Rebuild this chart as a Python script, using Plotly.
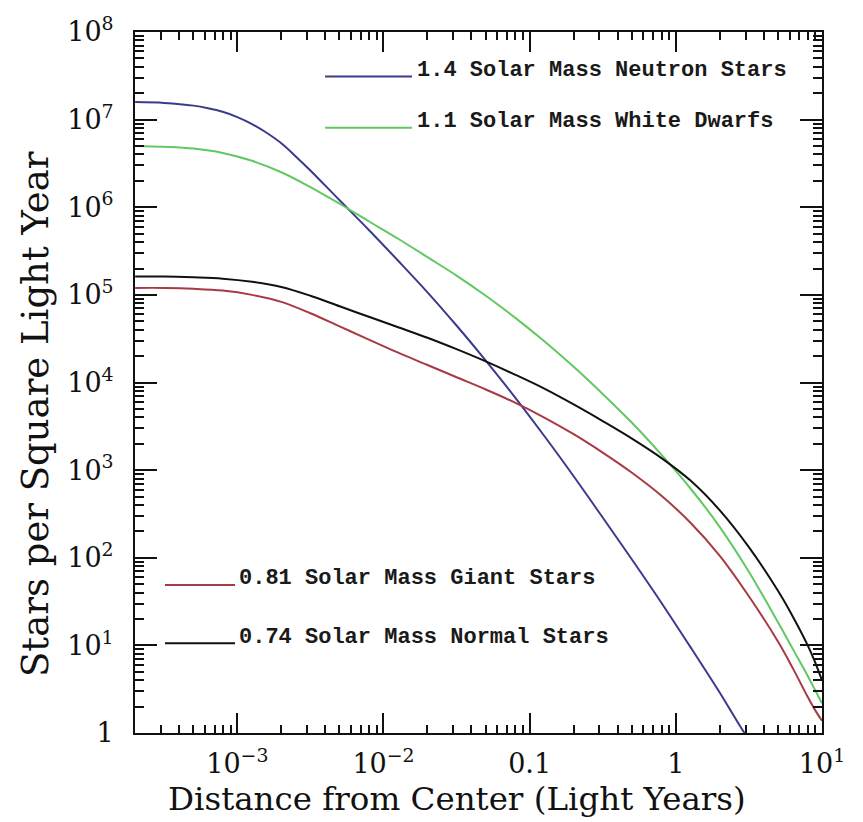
import plotly.graph_objects as go

# ---- data (distance in light years, stars per square light year)
distance = [2.0e-4, 3.16e-4, 5.01e-4, 7.94e-4, 1.26e-3, 2.0e-3, 3.16e-3, 5.01e-3, 7.94e-3,
            1.26e-2, 2.0e-2, 3.16e-2, 5.01e-2, 7.94e-2, 0.126, 0.2, 0.316, 0.501, 0.794,
            1.26, 2.0, 3.16, 5.01, 6.31, 7.94, 8.91, 10.0]

neutron_x = [2.0e-4, 3.16e-4, 5.01e-4, 6.31e-4, 7.94e-4, 1.0e-3, 1.26e-3, 1.585e-3, 2.0e-3,
             2.51e-3, 3.16e-3, 5.01e-3, 7.94e-3, 1.26e-2, 2.0e-2, 3.16e-2, 5.01e-2, 7.94e-2,
             0.126, 0.2, 0.316, 0.501, 0.794, 1.26, 2.0, 2.95, 3.16]
neutron_y = [1.585e7, 1.549e7, 1.445e7, 1.35e7, 1.23e7, 1.07e7, 8.91e6, 7.08e6, 5.37e6,
             3.80e6, 2.63e6, 1.20e6, 5.50e5, 2.45e5, 1.07e5, 4.47e4, 1.78e4, 6.76e3,
             2.45e3, 851, 288, 95.5, 30.9, 9.55, 2.88, 1.0, 0.87]

dwarf_y = [5.01e6, 4.90e6, 4.68e6, 4.17e6, 3.39e6, 2.51e6, 1.70e6, 1.096e6, 6.92e5,
           4.37e5, 2.69e5, 1.66e5, 9.77e4, 5.50e4, 2.95e4, 1.51e4, 7.41e3, 3.47e3, 1.51e3,
           617, 224, 69.2, 18.2, 9.12, 4.57, 3.16, 2.19]

giant_y = [1.20e5, 1.20e5, 1.175e5, 1.12e5, 1.0e5, 8.32e4, 6.17e4, 4.37e4, 3.09e4,
           2.19e4, 1.585e4, 1.148e4, 8.32e3, 5.89e3, 3.98e3, 2.57e3, 1.585e3, 933, 513,
           251, 105, 36.3, 11.0, 5.50, 2.63, 1.86, 1.38]

normal_y = [1.62e5, 1.62e5, 1.585e5, 1.53e5, 1.41e5, 1.23e5, 9.77e4, 7.41e4, 5.62e4,
            4.27e4, 3.24e4, 2.40e4, 1.74e4, 1.23e4, 8.51e3, 5.62e3, 3.63e3, 2.29e3, 1.38e3,
            759, 347, 132, 41.7, 21.4, 10.2, 6.61, 3.98]

series_names = ["1.4 Solar Mass Neutron Stars", "1.1 Solar Mass White Dwarfs",
                "0.81 Solar Mass Giant Stars", "0.74 Solar Mass Normal Stars"]
series_colors = ["#3b3b8c", "#62c862", "#a83a44", "#111111"]

x_tickvals = [1e-3, 1e-2, 0.1, 1, 10]
x_ticktext = ["10<sup>−3</sup>", "10<sup>−2</sup>", "0.1", "1", "10<sup>1</sup>"]
y_tickvals = [1, 1e1, 1e2, 1e3, 1e4, 1e5, 1e6, 1e7, 1e8]
y_ticktext = ["1", "10<sup>1</sup>", "10<sup>2</sup>", "10<sup>3</sup>", "10<sup>4</sup>",
              "10<sup>5</sup>", "10<sup>6</sup>", "10<sup>7</sup>", "10<sup>8</sup>"]

x_title = "Distance from Center (Light Years)"
y_title = "Stars per Square Light Year"

# ---- figure
fig = go.Figure()
data = [(neutron_x, neutron_y), (distance, dwarf_y), (distance, giant_y), (distance, normal_y)]
for (xs, ys), name, color in zip(data, series_names, series_colors):
    fig.add_trace(go.Scatter(x=xs, y=ys, mode="lines", name=name, showlegend=False,
                             line=dict(color=color, width=2, shape="spline", smoothing=1.0)))
# empty trace that activates the mirrored (top/right) tick axes
fig.add_trace(go.Scatter(x=[], y=[], xaxis="x2", yaxis="y2", showlegend=False,
                         hoverinfo="skip"))

x_minor = [k * 10 ** n for n in range(-4, 1) for k in range(2, 10)]
y_minor = [k * 10 ** n for n in range(0, 8) for k in range(2, 10)]

ink = "#111"
tickfont = dict(family="DejaVu Serif", size=27, color=ink)
xminor = dict(tickmode="array", tickvals=x_minor, ticks="inside", ticklen=8,
              tickwidth=1.5, tickcolor=ink, showgrid=False)
yminor = dict(tickmode="array", tickvals=y_minor, ticks="inside", ticklen=9,
              tickwidth=1.5, tickcolor=ink, showgrid=False)
xcommon = dict(type="log", range=[-3.70, 1.0], tickmode="array", tickvals=x_tickvals,
               ticks="inside", ticklen=20, tickwidth=1.5, tickcolor=ink, showline=True,
               linecolor=ink, linewidth=2, showgrid=False, zeroline=False, minor=xminor)
ycommon = dict(type="log", range=[0, 8], tickmode="array", tickvals=y_tickvals,
               ticks="inside", ticklen=22, tickwidth=1.5, tickcolor=ink, showline=True,
               linecolor=ink, linewidth=2, showgrid=False, zeroline=False, minor=yminor)

fig.update_layout(
    xaxis=dict(**xcommon, ticktext=x_ticktext, tickfont=tickfont, ticklabelstandoff=6),
    yaxis=dict(**ycommon, ticktext=y_ticktext, tickfont=tickfont, ticklabelstandoff=14),
    xaxis2=dict(**xcommon, overlaying="x", side="top", anchor="y", showticklabels=False),
    yaxis2=dict(**ycommon, overlaying="y", side="right", anchor="x", showticklabels=False),
)

# custom legend (line samples + labels), in paper coordinates
leg_font = dict(family="Liberation Mono", size=22, color="#1a1a1a")
legend_pos = [  # x0, x1, y(line), text x, text y
    (0.2766, 0.4032, 0.9366, 0.4076, 0.9450),
    (0.2766, 0.4032, 0.8634, 0.4076, 0.8718),
    (0.0437, 0.1456, 0.2113, 0.1485, 0.2197),
    (0.0437, 0.1456, 0.1282, 0.1485, 0.1366),
]
for (x0, x1, yl, tx, ty), name, color in zip(legend_pos, series_names, series_colors):
    fig.add_shape(type="line", xref="paper", yref="paper", x0=x0, x1=x1, y0=yl, y1=yl,
                  line=dict(color=color, width=2))
    fig.add_annotation(xref="paper", yref="paper", x=tx, y=ty, text="<b>" + name + "</b>",
                       showarrow=False, xanchor="left", yanchor="middle", font=leg_font)

fig.add_annotation(xref="paper", yref="paper", x=0.469, y=-0.094, text=x_title,
                   showarrow=False, xanchor="center", yanchor="middle",
                   font=dict(family="DejaVu Serif", size=32.5, color=ink))
fig.add_annotation(xref="paper", yref="paper", x=-0.1456, y=0.455, text=y_title,
                   showarrow=False, xanchor="center", yanchor="middle", textangle=-90,
                   font=dict(family="DejaVu Serif", size=37, color=ink))

fig.update_layout(width=863, height=822, margin=dict(l=135, r=41, t=23, b=89),
                  paper_bgcolor="white", plot_bgcolor="white", showlegend=False)

fig.write_html("out.html")
